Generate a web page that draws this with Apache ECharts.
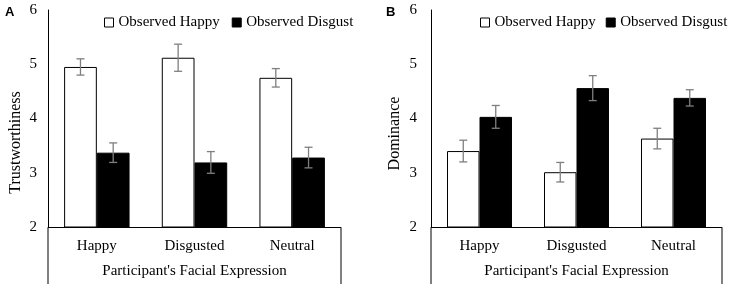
<!DOCTYPE html>
<html>
<head>
<meta charset="utf-8">
<script src="https://cdn.jsdelivr.net/npm/echarts@6/dist/echarts.min.js"></script>
<style>
  html, body { margin: 0; padding: 0; background: #fff; }
  #chart { width: 730px; height: 284px; }
</style>
</head>
<body>
<div id="chart"></div>
<script>
const categories = ['Happy', 'Disgusted', 'Neutral'];
const yTicks = [2, 6];

// panel A: trustworthiness
const trustHappy = [4.95, 5.12, 4.75];
const trustHappyErr = [0.15, 0.25, 0.17];
const trustDisgust = [3.37, 3.19, 3.28];
const trustDisgustErr = [0.18, 0.20, 0.19];

// panel B: dominance
const domHappy = [3.40, 3.01, 3.63];
const domHappyErr = [0.20, 0.18, 0.19];
const domDisgust = [4.03, 4.56, 4.38];
const domDisgustErr = [0.21, 0.23, 0.15];

const FONT = '"Liberation Serif", "Times New Roman", serif';
const CAT_GAP = 0.33;
const grids = [
  { left: 48, right: 389, top: 10, bottom: 56 },
  { left: 431, right: 8, top: 10, bottom: 56 }
];

const chart = echarts.init(document.getElementById('chart'));

function errSeries(name, gridIdx, vals, errs, side) {
  return {
    type: 'custom',
    name: name + ' err',
    xAxisIndex: gridIdx,
    yAxisIndex: gridIdx,
    silent: true,
    z: 5,
    data: vals.map((v, i) => [i, v, errs[i]]),
    renderItem: function (params, api) {
      const i = api.value(0), v = api.value(1), e = api.value(2);
      const band = api.size([1, 0])[0];
      const barW = band * (1 - CAT_GAP) / 2;
      const c = api.coord([i, v]);
      const x = c[0] + (side === 0 ? -barW / 2 : barW / 2);
      const hi = api.coord([i, v + e])[1];
      const lo = api.coord([i, v - e])[1];
      const cap = 4;
      const st = { stroke: '#7f7f7f', lineWidth: 1.3 };
      return {
        type: 'group',
        children: [
          { type: 'line', shape: { x1: x, y1: hi, x2: x, y2: lo }, style: st },
          { type: 'line', shape: { x1: x - cap, y1: hi, x2: x + cap, y2: hi }, style: st },
          { type: 'line', shape: { x1: x - cap, y1: lo, x2: x + cap, y2: lo }, style: st }
        ]
      };
    }
  };
}

function barSeries(name, gridIdx, vals, white) {
  return {
    type: 'bar',
    name: name,
    xAxisIndex: gridIdx,
    yAxisIndex: gridIdx,
    data: vals,
    barGap: '0%',
    barCategoryGap: (CAT_GAP * 100) + '%',
    itemStyle: white
      ? { color: '#ffffff', borderColor: '#000', borderWidth: 1 }
      : { color: '#000000', borderColor: '#000', borderWidth: 1 }
  };
}

function xAx(gridIdx) {
  return {
    type: 'category',
    gridIndex: gridIdx,
    data: categories,
    axisLine: { lineStyle: { color: '#000', width: 1 } },
    axisTick: { show: false },
    axisLabel: { color: '#000', fontFamily: FONT, fontSize: 15, margin: 12 },
    name: "Participant's Facial Expression",
    nameLocation: 'middle',
    nameGap: 37,
    nameTextStyle: { color: '#000', fontFamily: FONT, fontSize: 15 }
  };
}

function yAx(gridIdx, name, gap, labelMargin, pad) {
  return {
    type: 'value',
    gridIndex: gridIdx,
    min: yTicks[0],
    max: yTicks[1],
    interval: 1,
    axisLine: { show: true, lineStyle: { color: '#000', width: 1 } },
    axisTick: { show: false },
    splitLine: { show: false },
    axisLabel: { color: '#000', fontFamily: FONT, fontSize: 15, margin: labelMargin },
    name: name,
    nameLocation: 'middle',
    nameGap: gap,
    nameTextStyle: { color: '#000', fontFamily: FONT, fontSize: 16, padding: pad }
  };
}

const legendData = [
  { name: 'Observed Happy', itemStyle: { color: '#fff', borderColor: '#000', borderWidth: 1 } },
  { name: 'Observed Disgust', itemStyle: { color: '#000', borderColor: '#000', borderWidth: 1 } }
];
const legendBase = {
  top: 10,
  width: 320,
  icon: 'rect',
  itemWidth: 9,
  itemHeight: 9,
  itemGap: 12,
  data: legendData,
  textStyle: { color: '#000', fontFamily: FONT, fontSize: 15 }
};

const W = 730, H = 284;
function sideLines(g) {
  const xl = g.left, xr = W - g.right, y0 = H - g.bottom;
  return [xl, xr].map(x => ({
    type: 'line',
    shape: { x1: x, y1: y0, x2: x, y2: H },
    style: { stroke: '#000', lineWidth: 1 }
  }));
}

const letterStyle = { fontFamily: '"Liberation Sans", Arial, sans-serif', fontSize: 13, fontWeight: 'bold', color: '#000' };

chart.setOption({
  animation: false,
  title: [
    { text: 'A', left: 0, top: 1, textStyle: letterStyle },
    { text: 'B', left: 381, top: 1, textStyle: letterStyle }
  ],
  legend: [
    Object.assign({}, legendBase, { left: 99 }),
    Object.assign({}, legendBase, { left: 475, itemGap: 10 })
  ],
  grid: grids,
  xAxis: [xAx(0), xAx(1)],
  yAxis: [
    yAx(0, 'Trustworthiness', 24, 11, [0, 48, 0, 0]),
    yAx(1, 'Dominance', 28, 14, [0, 30, 0, 0])
  ],
  series: [
    barSeries('Observed Happy', 0, trustHappy, true),
    barSeries('Observed Disgust', 0, trustDisgust, false),
    barSeries('Observed Happy', 1, domHappy, true),
    barSeries('Observed Disgust', 1, domDisgust, false),
    errSeries('Observed Happy', 0, trustHappy, trustHappyErr, 0),
    errSeries('Observed Disgust', 0, trustDisgust, trustDisgustErr, 1),
    errSeries('Observed Happy', 1, domHappy, domHappyErr, 0),
    errSeries('Observed Disgust', 1, domDisgust, domDisgustErr, 1)
  ],
  graphic: sideLines(grids[0]).concat(sideLines(grids[1]))
});
</script>
</body>
</html>
